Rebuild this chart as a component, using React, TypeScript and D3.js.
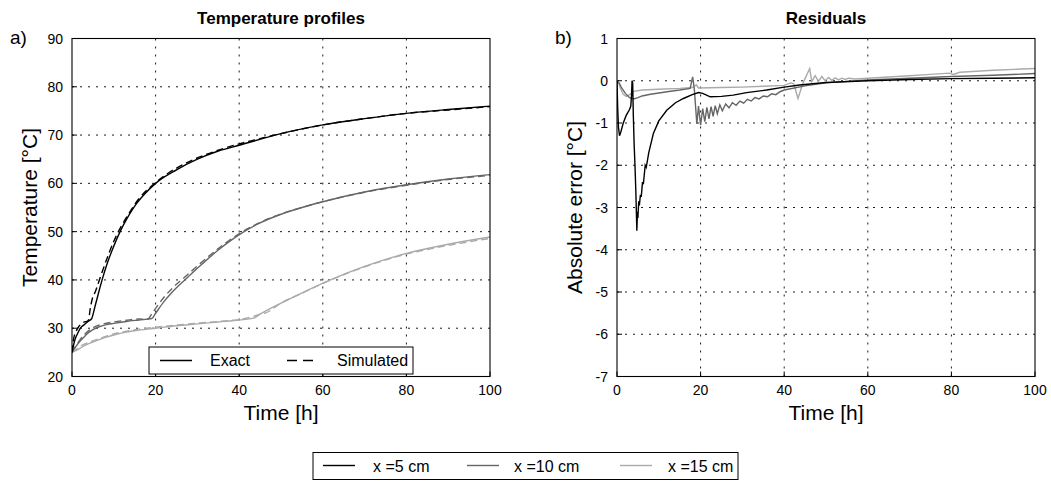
import React from 'react';
import * as d3 from 'd3';

const W = 1051;
const H = 483;
const FONT = '"Liberation Sans", Arial, Helvetica, sans-serif';

// ---------- data ----------
const tempTicks = [20, 30, 40, 50, 60, 70, 80, 90];
const errTicks = [-7, -6, -5, -4, -3, -2, -1, 0, 1];
const timeTicks = [0, 20, 40, 60, 80, 100];

const seriesNames = ['x =5 cm', 'x =10 cm', 'x =15 cm'];
const seriesColors = ['#000000', '#666666', '#aaaaaa'];

const exact5: [number, number][] = [[0,25],[0.3,26.2],[0.6,27.3],[1,28.3],[1.5,29.2],[2,30],[3,30.8],[4,31.5],[4.7,32],[5.5,34.5],[6.5,37.8],[7.2,40],[8.5,43.6],[10,47],[11.5,50],[13,52.5],[15,55.3],[17.5,57.9],[20,60],[25,62.8],[30,65],[35,66.7],[40,67.9],[50,70.3],[60,72.1],[70,73.4],[80,74.5],[90,75.3],[100,76]];
const sim5: [number, number][] = [[0,25],[0.3,27.4],[0.6,28.6],[1,29.4],[1.5,30.2],[2,30.7],[3,31.3],[3.6,31.4],[4,31.8],[4.3,33.7],[4.8,35.9],[5.6,37.6],[6.75,40.5],[8.7,45.2],[10,48],[11.9,51.3],[13.5,53.6],[15.9,56.7],[19.5,59.8],[22.3,61.7],[27.8,64.4],[35.8,67.1],[43.7,69],[50,70.3],[60,72.1],[70,73.4],[80,74.5],[90,75.2],[100,75.9]];

const exact10: [number, number][] = [[0,25],[0.5,25.7],[1,26.3],[2,27.4],[3,28.3],[4,29.1],[5,29.7],[6.5,30.3],[8,30.7],[10,31],[13,31.4],[16,31.7],[19.1,32],[20,33.1],[22,35.5],[24,37.5],[27,40],[30,42.4],[35,46.2],[40.6,49.7],[45,51.8],[50,53.6],[55,55],[60,56.2],[70,58.2],[80,59.7],[90,60.9],[100,61.8]];
const sim10: [number, number][] = [[0,25],[1,26.45],[2,27.7],[3,28.7],[4,29.5],[5,30.1],[6.5,30.65],[8,31],[10,31.3],[13,31.65],[16,31.9],[18.1,31.85],[19.1,33],[20,34.1],[22,36.4],[24,38.3],[27,40.6],[30,42.9],[35,46.5],[40.6,49.9],[45,51.9],[50,53.65],[55,55],[60,56.2],[70,58.15],[80,59.6],[90,60.8],[100,61.65]];

const exact15: [number, number][] = [[0,25],[1,25.4],[2,25.9],[4,26.8],[6,27.5],[8,28.1],[10,28.6],[13,29.2],[16,29.6],[20,30],[25,30.5],[30,30.9],[35,31.3],[40,31.7],[43.5,32.1],[45,32.9],[50,35.2],[55,37.3],[61,39.7],[70,42.8],[80,45.5],[90,47.4],[100,48.9]];
const sim15: [number, number][] = [[0,25],[1,25.6],[2,26.3],[4,27.05],[6,27.7],[8,28.3],[10,28.8],[13,29.4],[16,29.8],[20,30.2],[25,30.65],[30,31.05],[35,31.4],[40,31.8],[43.3,32.4],[45,32.9],[46.1,33.1],[50,35.2],[55,37.25],[61,39.65],[70,42.7],[80,45.35],[90,47.15],[100,48.6]];

const resid5: [number, number][] = [[0,0],[0.15,-0.6],[0.35,-1.1],[0.6,-1.3],[0.9,-1.22],[1.5,-1.0],[2.2,-0.82],[3,-0.68],[3.3,-0.6],[3.5,-0.3],[3.6,0],[3.75,-0.05],[3.9,-0.8],[4.1,-1.5],[4.3,-2.0],[4.5,-2.6],[4.75,-3.55],[4.9,-3.1],[5.0,-3.25],[5.2,-2.85],[5.35,-2.95],[5.6,-2.7],[5.8,-2.75],[6.1,-2.4],[6.3,-2.45],[6.75,-2.0],[7.0,-2.05],[7.6,-1.7],[8.7,-1.25],[10,-0.95],[11.9,-0.7],[14,-0.52],[15.9,-0.42],[18,-0.33],[19.5,-0.28],[20.5,-0.3],[22.3,-0.38],[25,-0.37],[27.8,-0.34],[31,-0.28],[35.8,-0.22],[40,-0.15],[43.7,-0.1],[50,-0.04],[60,0.0],[70,0.03],[80,0.05],[90,0.06],[100,0.07]];
const resid10: [number, number][] = [[0,0],[0.5,-0.05],[1,-0.15],[2,-0.3],[3,-0.4],[4,-0.43],[5,-0.4],[6,-0.36],[8,-0.32],[10,-0.29],[12,-0.26],[15,-0.22],[17.5,-0.18],[18.1,0.09],[18.5,-0.2],[19.1,-1.02],[19.5,-0.6],[20,-1.05],[20.5,-0.66],[21,-0.97],[21.5,-0.63],[22,-0.9],[22.5,-0.61],[23,-0.84],[23.5,-0.59],[24,-0.78],[24.6,-0.57],[25.2,-0.71],[26,-0.55],[26.8,-0.64],[27.6,-0.52],[28.5,-0.58],[29.4,-0.48],[30.3,-0.53],[31.2,-0.44],[32.1,-0.48],[33,-0.4],[34,-0.43],[35,-0.36],[36,-0.38],[37,-0.31],[38,-0.33],[39,-0.26],[40,-0.22],[45,-0.12],[50,-0.05],[60,0.02],[70,0.06],[80,0.1],[90,0.13],[100,0.17]];
const resid15: [number, number][] = [[0,0],[0.4,-0.05],[0.8,-0.18],[1.5,-0.32],[2.2,-0.37],[3,-0.33],[4,-0.25],[6,-0.22],[10,-0.2],[15,-0.18],[18,-0.16],[19,-0.1],[19.5,-0.17],[25,-0.16],[30,-0.15],[35,-0.13],[40,-0.11],[41.5,-0.05],[42.3,-0.07],[43.3,-0.42],[44.5,-0.05],[46.1,0.29],[46.6,-0.02],[47.4,0.12],[48.2,-0.01],[49,0.1],[49.8,0.0],[50.6,0.08],[51.4,0.01],[52.2,0.07],[53,0.02],[53.8,0.06],[54.6,0.03],[55.4,0.06],[57,0.04],[60,0.06],[65,0.09],[70,0.12],[75,0.15],[79.5,0.18],[80.5,0.15],[82,0.2],[85,0.22],[90,0.25],[95,0.27],[100,0.29]];

const exactSeries = [exact5, exact10, exact15];
const simSeries = [sim5, sim10, sim15];
const residSeries = [resid5, resid10, resid15];

// ---------- layout ----------
const TOP = 38.5;
const BOT = 376.5;
const LEFT_A = 72;
const RIGHT_A = 490;
const LEFT_B = 617;
const RIGHT_B = 1035;

const GRID_DASH = '2,6';

function Panel(props: {
  x0: number; x1: number; yDomain: [number, number]; yTicks: number[];
  title: string; tag: string; ylabel: string; children: (x: d3.ScaleLinear<number, number>, y: d3.ScaleLinear<number, number>) => React.ReactNode;
}) {
  const { x0, x1, yDomain, yTicks, title, tag, ylabel } = props;
  const x = d3.scaleLinear().domain([0, 100]).range([x0, x1]);
  const y = d3.scaleLinear().domain(yDomain).range([BOT, TOP]);
  const cx = (x0 + x1) / 2;
  const cy = (TOP + BOT) / 2;
  const clipId = 'clip' + tag.replace(/\W/g, '');
  return (
    <g>
      <defs>
        <clipPath id={clipId}>
          <rect x={x0} y={TOP} width={x1 - x0} height={BOT - TOP} />
        </clipPath>
      </defs>
      {timeTicks.slice(1, -1).map((t) => (
        <line key={'gx' + t} x1={x(t)} x2={x(t)} y1={TOP} y2={BOT} stroke="#000" strokeWidth={0.9} strokeDasharray={GRID_DASH} />
      ))}
      {yTicks.slice(1, -1).map((v) => (
        <line key={'gy' + v} x1={x0} x2={x1} y1={y(v)} y2={y(v)} stroke="#000" strokeWidth={0.9} strokeDasharray={GRID_DASH} />
      ))}
      {yTicks.map((v) => (
        <line key={'ty' + v} x1={x0} x2={x0 + 5} y1={y(v)} y2={y(v)} stroke="#000" strokeWidth={1} />
      ))}
      {timeTicks.map((t) => (
        <line key={'tx' + t} x1={x(t)} x2={x(t)} y1={BOT} y2={BOT - 5} stroke="#000" strokeWidth={1} />
      ))}
      <g clipPath={`url(#${clipId})`}>{props.children(x, y)}</g>
      <rect x={x0} y={TOP} width={x1 - x0} height={BOT - TOP} fill="none" stroke="#000" strokeWidth={1.1} />
      {yTicks.map((v) => (
        <text key={'ly' + v} x={x0 - 9} y={y(v) + 5} textAnchor="end" fontSize={14} fontFamily={FONT} fill="#000">{String(v)}</text>
      ))}
      {timeTicks.map((t) => (
        <text key={'lx' + t} x={x(t)} y={BOT + 18} textAnchor="middle" fontSize={14} fontFamily={FONT} fill="#000">{String(t)}</text>
      ))}
      <text x={cx} y={BOT + 43} textAnchor="middle" fontSize={21} fontFamily={FONT} fill="#000">Time [h]</text>
      <text transform={`translate(${x0 - 35},${cy}) rotate(-90)`} textAnchor="middle" fontSize={21} fontFamily={FONT} fill="#000">{ylabel}</text>
      <text x={cx} y={24} textAnchor="middle" fontSize={17} fontWeight="bold" fontFamily={FONT} fill="#000">{title}</text>
      <text x={x0 - 62} y={44} fontSize={19} fontFamily={FONT} fill="#000">{tag}</text>
    </g>
  );
}

export default function App() {
  const lineOf = (x: d3.ScaleLinear<number, number>, y: d3.ScaleLinear<number, number>, curve: d3.CurveFactory) =>
    d3.line<[number, number]>().x((d) => x(d[0])).y((d) => y(d[1])).curve(curve);

  return (
    <svg width={W} height={H} style={{ position: 'absolute', left: 0, top: 0, background: '#fff' }}>
      <rect x={0} y={0} width={W} height={H} fill="#fff" />
      <Panel x0={LEFT_A} x1={RIGHT_A} yDomain={[20, 90]} yTicks={tempTicks} title="Temperature profiles" tag="a)" ylabel="Temperature [°C]">
        {(x, y) => {
          const ln = lineOf(x, y, d3.curveMonotoneX);
          return (
            <g>
              {[2, 1, 0].map((i) => (
                <g key={i}>
                  <path d={ln(exactSeries[i]) || ''} fill="none" stroke={seriesColors[i]} strokeWidth={1.4} />
                  <path d={ln(simSeries[i]) || ''} fill="none" stroke={seriesColors[i]} strokeWidth={1.4} strokeDasharray="7,4" />
                </g>
              ))}
              <rect x={149} y={347} width={264} height={27} fill="#fff" stroke="#000" strokeWidth={1} />
              <line x1={160} x2={192} y1={360.5} y2={360.5} stroke="#000" strokeWidth={1.4} />
              <text x={210} y={366} fontSize={16} fontFamily={FONT} fill="#000">Exact</text>
              <line x1={287} x2={315} y1={360.5} y2={360.5} stroke="#000" strokeWidth={1.4} strokeDasharray="10,6" />
              <text x={337} y={366} fontSize={16} fontFamily={FONT} fill="#000">Simulated</text>
            </g>
          );
        }}
      </Panel>
      <Panel x0={LEFT_B} x1={RIGHT_B} yDomain={[-7, 1]} yTicks={errTicks} title="Residuals" tag="b)" ylabel="Absolute error [°C]">
        {(x, y) => {
          const ln = lineOf(x, y, d3.curveLinear);
          return (
            <g>
              {[2, 1, 0].map((i) => (
                <path key={i} d={ln(residSeries[i]) || ''} fill="none" stroke={seriesColors[i]} strokeWidth={1.4} />
              ))}
            </g>
          );
        }}
      </Panel>
      <rect x={313} y={452.5} width={425} height={27} fill="#fff" stroke="#000" strokeWidth={1} />
      {[[323, 373], [467, 514], [620, 668]].map(([lx, tx], i) => (
        <g key={i}>
          <line x1={lx} x2={lx + 32} y1={465.5} y2={465.5} stroke={seriesColors[i]} strokeWidth={1.4} />
          <text x={tx} y={471.5} fontSize={16} fontFamily={FONT} fill="#000">{seriesNames[i]}</text>
        </g>
      ))}
    </svg>
  );
}
